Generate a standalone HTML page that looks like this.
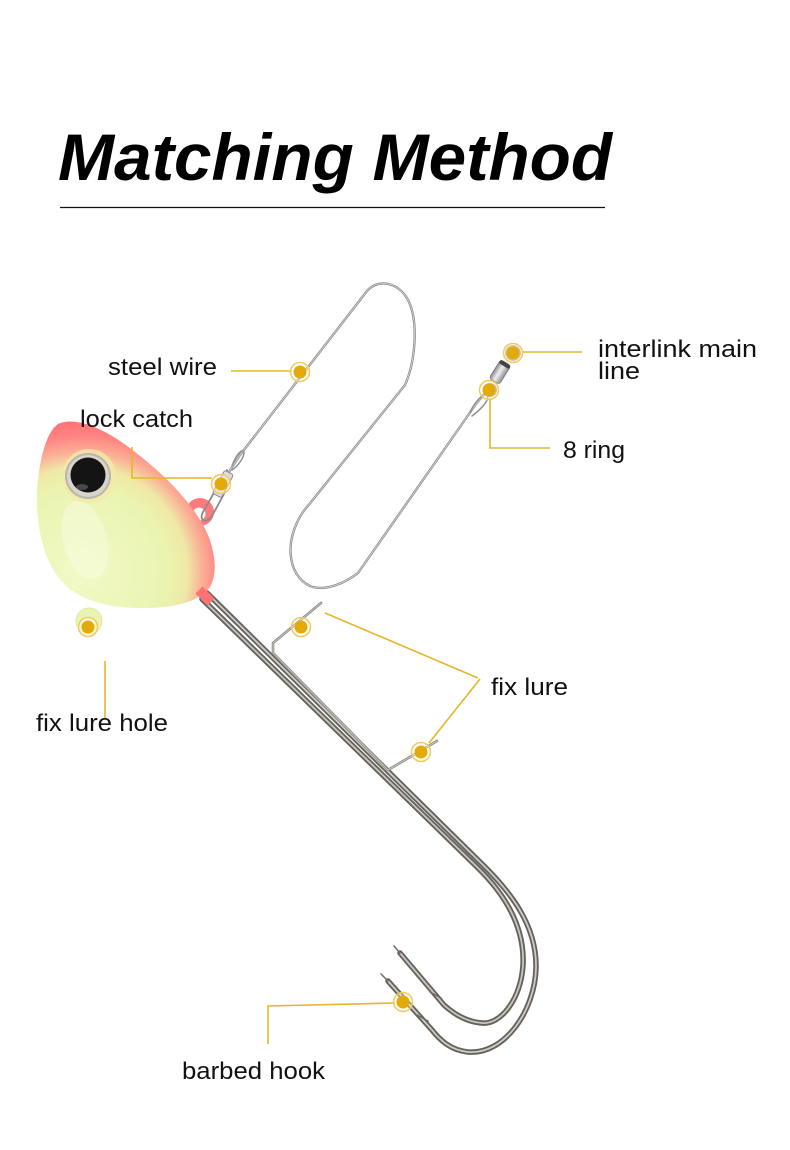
<!DOCTYPE html>
<html><head><meta charset="utf-8"><style>
html,body{margin:0;padding:0;background:#fff;}
svg{display:block;}
.lbl{font-family:"Liberation Sans",sans-serif;font-size:24px;fill:#111;}
</style></head><body>
<svg width="790" height="1150" viewBox="0 0 790 1150" xmlns="http://www.w3.org/2000/svg">
<defs>
<radialGradient id="hg" gradientUnits="userSpaceOnUse" cx="82" cy="572" r="155">
<stop offset="0" stop-color="#f2f9c8"/>
<stop offset="0.55" stop-color="#eaf4b0"/>
<stop offset="0.68" stop-color="#f0e8a6"/>
<stop offset="0.78" stop-color="#fbae96"/>
<stop offset="0.88" stop-color="#ff8482"/>
<stop offset="1" stop-color="#ff6d72"/>
</radialGradient>
<linearGradient id="barrel" x1="0" y1="0" x2="1" y2="0">
<stop offset="0" stop-color="#8a8a8a"/>
<stop offset="0.45" stop-color="#f0f0f0"/>
<stop offset="1" stop-color="#8f8f8f"/>
</linearGradient>
</defs>
<rect width="790" height="1150" fill="#fff"/>

<!-- Title -->
<text x="58" y="180" font-family="Liberation Sans, sans-serif" font-weight="bold" font-style="italic" font-size="66" fill="#000" textLength="554" lengthAdjust="spacingAndGlyphs">Matching Method</text>
<line x1="60" y1="207.5" x2="605" y2="207.5" stroke="#111" stroke-width="1.3"/>

<!-- steel wire leader -->
<g fill="none" stroke-linecap="round" stroke-linejoin="round">
<path d="M225,478 L240,455 L367,291 C378,278 400,282 409,302 C418,322 416,360 405,385 L303,512 C284,540 287,575 310,586 C325,592 345,583 358,573 L476,404 L484,394" stroke="#8e8e8e" stroke-width="2.4"/>
<path d="M225,478 L240,455 L367,291 C378,278 400,282 409,302 C418,322 416,360 405,385 L303,512 C284,540 287,575 310,586 C325,592 345,583 358,573 L476,404 L484,394" stroke="#d6d6d6" stroke-width="0.8"/>
<path d="M232,466 C236,455 242,448 244,452 C244,458 238,466 232,470" stroke="#8e8e8e" stroke-width="1.5"/>
<path d="M470,412 C476,400 484,392 488,396 C488,402 480,410 472,416" stroke="#8e8e8e" stroke-width="1.5"/>
</g>

<!-- swivel -->
<circle cx="513" cy="353" r="7" fill="none" stroke="#a8a8a8" stroke-width="2"/>
<g transform="translate(500,372) rotate(32)">
<rect x="-6" y="-11" width="12" height="22" rx="3" fill="url(#barrel)" stroke="#777" stroke-width="0.8"/>
<rect x="-6" y="-11" width="12" height="4" rx="2" fill="#444"/>
</g>
<circle cx="490" cy="390" r="6" fill="none" stroke="#9a9a9a" stroke-width="2"/>

<!-- hooks -->
<g fill="none" stroke-linecap="round" stroke-linejoin="round">
<!-- inner hook B -->
<path d="M202,599 L476,866 C503,892 525,925 523,965 C521,1000 500,1025 482,1023 C468,1022 455,1015 444,1005 L400,953" stroke="#65615b" stroke-width="5.5"/>
<path d="M202,599 L476,866 C503,892 525,925 523,965 C521,1000 500,1025 482,1023 C468,1022 455,1015 444,1005 L400,953" stroke="#c9c5c0" stroke-width="1.8"/>
<path d="M400,953 L394,946" stroke="#6e6a65" stroke-width="1.5"/>
<path d="M430,992 L441,998" stroke="#6e6a65" stroke-width="1.5"/>
<!-- outer hook A -->
<path d="M207,593 L480,862 C510,891 537,925 536,968 C535,1010 505,1055 468,1052 C450,1050 440,1040 432,1030 L388,981" stroke="#65615b" stroke-width="5.5"/>
<path d="M207,593 L480,862 C510,891 537,925 536,968 C535,1010 505,1055 468,1052 C450,1050 440,1040 432,1030 L388,981" stroke="#cfcbc6" stroke-width="1.8"/>
<path d="M388,981 L381,974" stroke="#6e6a65" stroke-width="1.5"/>
<path d="M417,1015 L428,1021" stroke="#6e6a65" stroke-width="1.5"/>
<!-- keeper wire -->
<path d="M321,603 L273,643 L273,653 L388,770 L437,741" stroke="#8d8985" stroke-width="2.6"/>
<path d="M321,603 L273,643 L273,653 L388,770 L437,741" stroke="#d2cfcb" stroke-width="0.8"/>
</g>

<!-- jig head -->
<circle cx="89" cy="621" r="13" fill="#eaf4b2" stroke="#dfe9a4" stroke-width="1"/>
<circle cx="89" cy="623" r="6" fill="#fff"/>
<circle cx="200" cy="512" r="14" fill="#ff7a7c"/>
<circle cx="199" cy="514" r="6.5" fill="#fff"/>
<path d="M58,424 C75,416 105,428 135,452 C165,475 195,505 208,535 C216,555 217,575 210,587 C200,600 180,607 150,608 C115,609 85,603 65,585 C45,565 36,530 37,495 C38,465 45,433 58,424 Z" fill="url(#hg)"/>
<ellipse cx="85" cy="540" rx="22" ry="40" fill="#f8fcdf" opacity="0.5" transform="rotate(-15 85 540)"/>
<line x1="199" y1="590" x2="211" y2="602" stroke="#ff7276" stroke-width="10" stroke-linecap="butt"/>
<!-- eye -->
<circle cx="89" cy="476" r="27" fill="#f2eaa8" opacity="0.8"/>
<circle cx="88" cy="476" r="23" fill="#b9b7ad"/>
<circle cx="88" cy="476" r="21" fill="#d8d6cc"/>
<circle cx="88" cy="475" r="17.5" fill="#141414"/>
<ellipse cx="82" cy="487" rx="6" ry="3" fill="#6a6a6a" opacity="0.6"/>

<!-- lock catch clip -->
<g fill="none" stroke-linecap="round" stroke-linejoin="round">
<path d="M227,470 L203,512 C198,521 207,524 212,516 L224,494" stroke="#8a8a8a" stroke-width="1.8"/>
</g>
<g transform="translate(223,484) rotate(28)">
<rect x="-5" y="-13" width="10" height="26" rx="2" fill="#dcdcdc" stroke="#8a8a8a" stroke-width="1"/>
</g>

<!-- leader lines -->
<g fill="none" stroke="#e6b52c" stroke-width="1.6">
<line x1="231" y1="371" x2="292" y2="371"/>
<polyline points="132,447 132,478 212,478"/>
<line x1="523" y1="352" x2="582" y2="352"/>
<polyline points="490,398 490,448 550,448"/>
<line x1="325" y1="613" x2="478" y2="678"/>
<line x1="480" y1="679" x2="429" y2="743"/>
<line x1="105" y1="661" x2="105" y2="719"/>
<polyline points="395,1003 268,1006 268,1044"/>
</g>

<!-- dots -->
<g>
<g fill="rgba(255,255,255,0.35)" stroke="#efcb5c" stroke-width="1.5">
<circle cx="300" cy="372" r="9.5"/>
<circle cx="221" cy="484" r="9.5"/>
<circle cx="513" cy="353" r="9.5"/>
<circle cx="489" cy="390" r="9.5"/>
<circle cx="301" cy="627" r="9.5"/>
<circle cx="421" cy="752" r="9.5"/>
<circle cx="88" cy="627" r="9.5"/>
<circle cx="403" cy="1002" r="9.5"/>
</g>
<g fill="#e4aa08">
<circle cx="300" cy="372" r="6.5"/>
<circle cx="221" cy="484" r="6.5"/>
<circle cx="513" cy="353" r="6.5"/>
<circle cx="489" cy="390" r="6.5"/>
<circle cx="301" cy="627" r="6.5"/>
<circle cx="421" cy="752" r="6.5"/>
<circle cx="88" cy="627" r="6.5"/>
<circle cx="403" cy="1002" r="6.5"/>
</g>
</g>

<!-- labels -->
<text class="lbl" x="108" y="375" textLength="109" lengthAdjust="spacingAndGlyphs">steel wire</text>
<text class="lbl" x="80" y="427" textLength="113" lengthAdjust="spacingAndGlyphs">lock catch</text>
<text class="lbl" x="598" y="357" textLength="159" lengthAdjust="spacingAndGlyphs">interlink main</text>
<text class="lbl" x="598" y="379" textLength="42" lengthAdjust="spacingAndGlyphs">line</text>
<text class="lbl" x="563" y="458" textLength="62" lengthAdjust="spacingAndGlyphs">8 ring</text>
<text class="lbl" x="491" y="695" textLength="77" lengthAdjust="spacingAndGlyphs">fix lure</text>
<text class="lbl" x="36" y="731" textLength="132" lengthAdjust="spacingAndGlyphs">fix lure hole</text>
<text class="lbl" x="182" y="1079" textLength="143" lengthAdjust="spacingAndGlyphs">barbed hook</text>
</svg>
</body></html>
